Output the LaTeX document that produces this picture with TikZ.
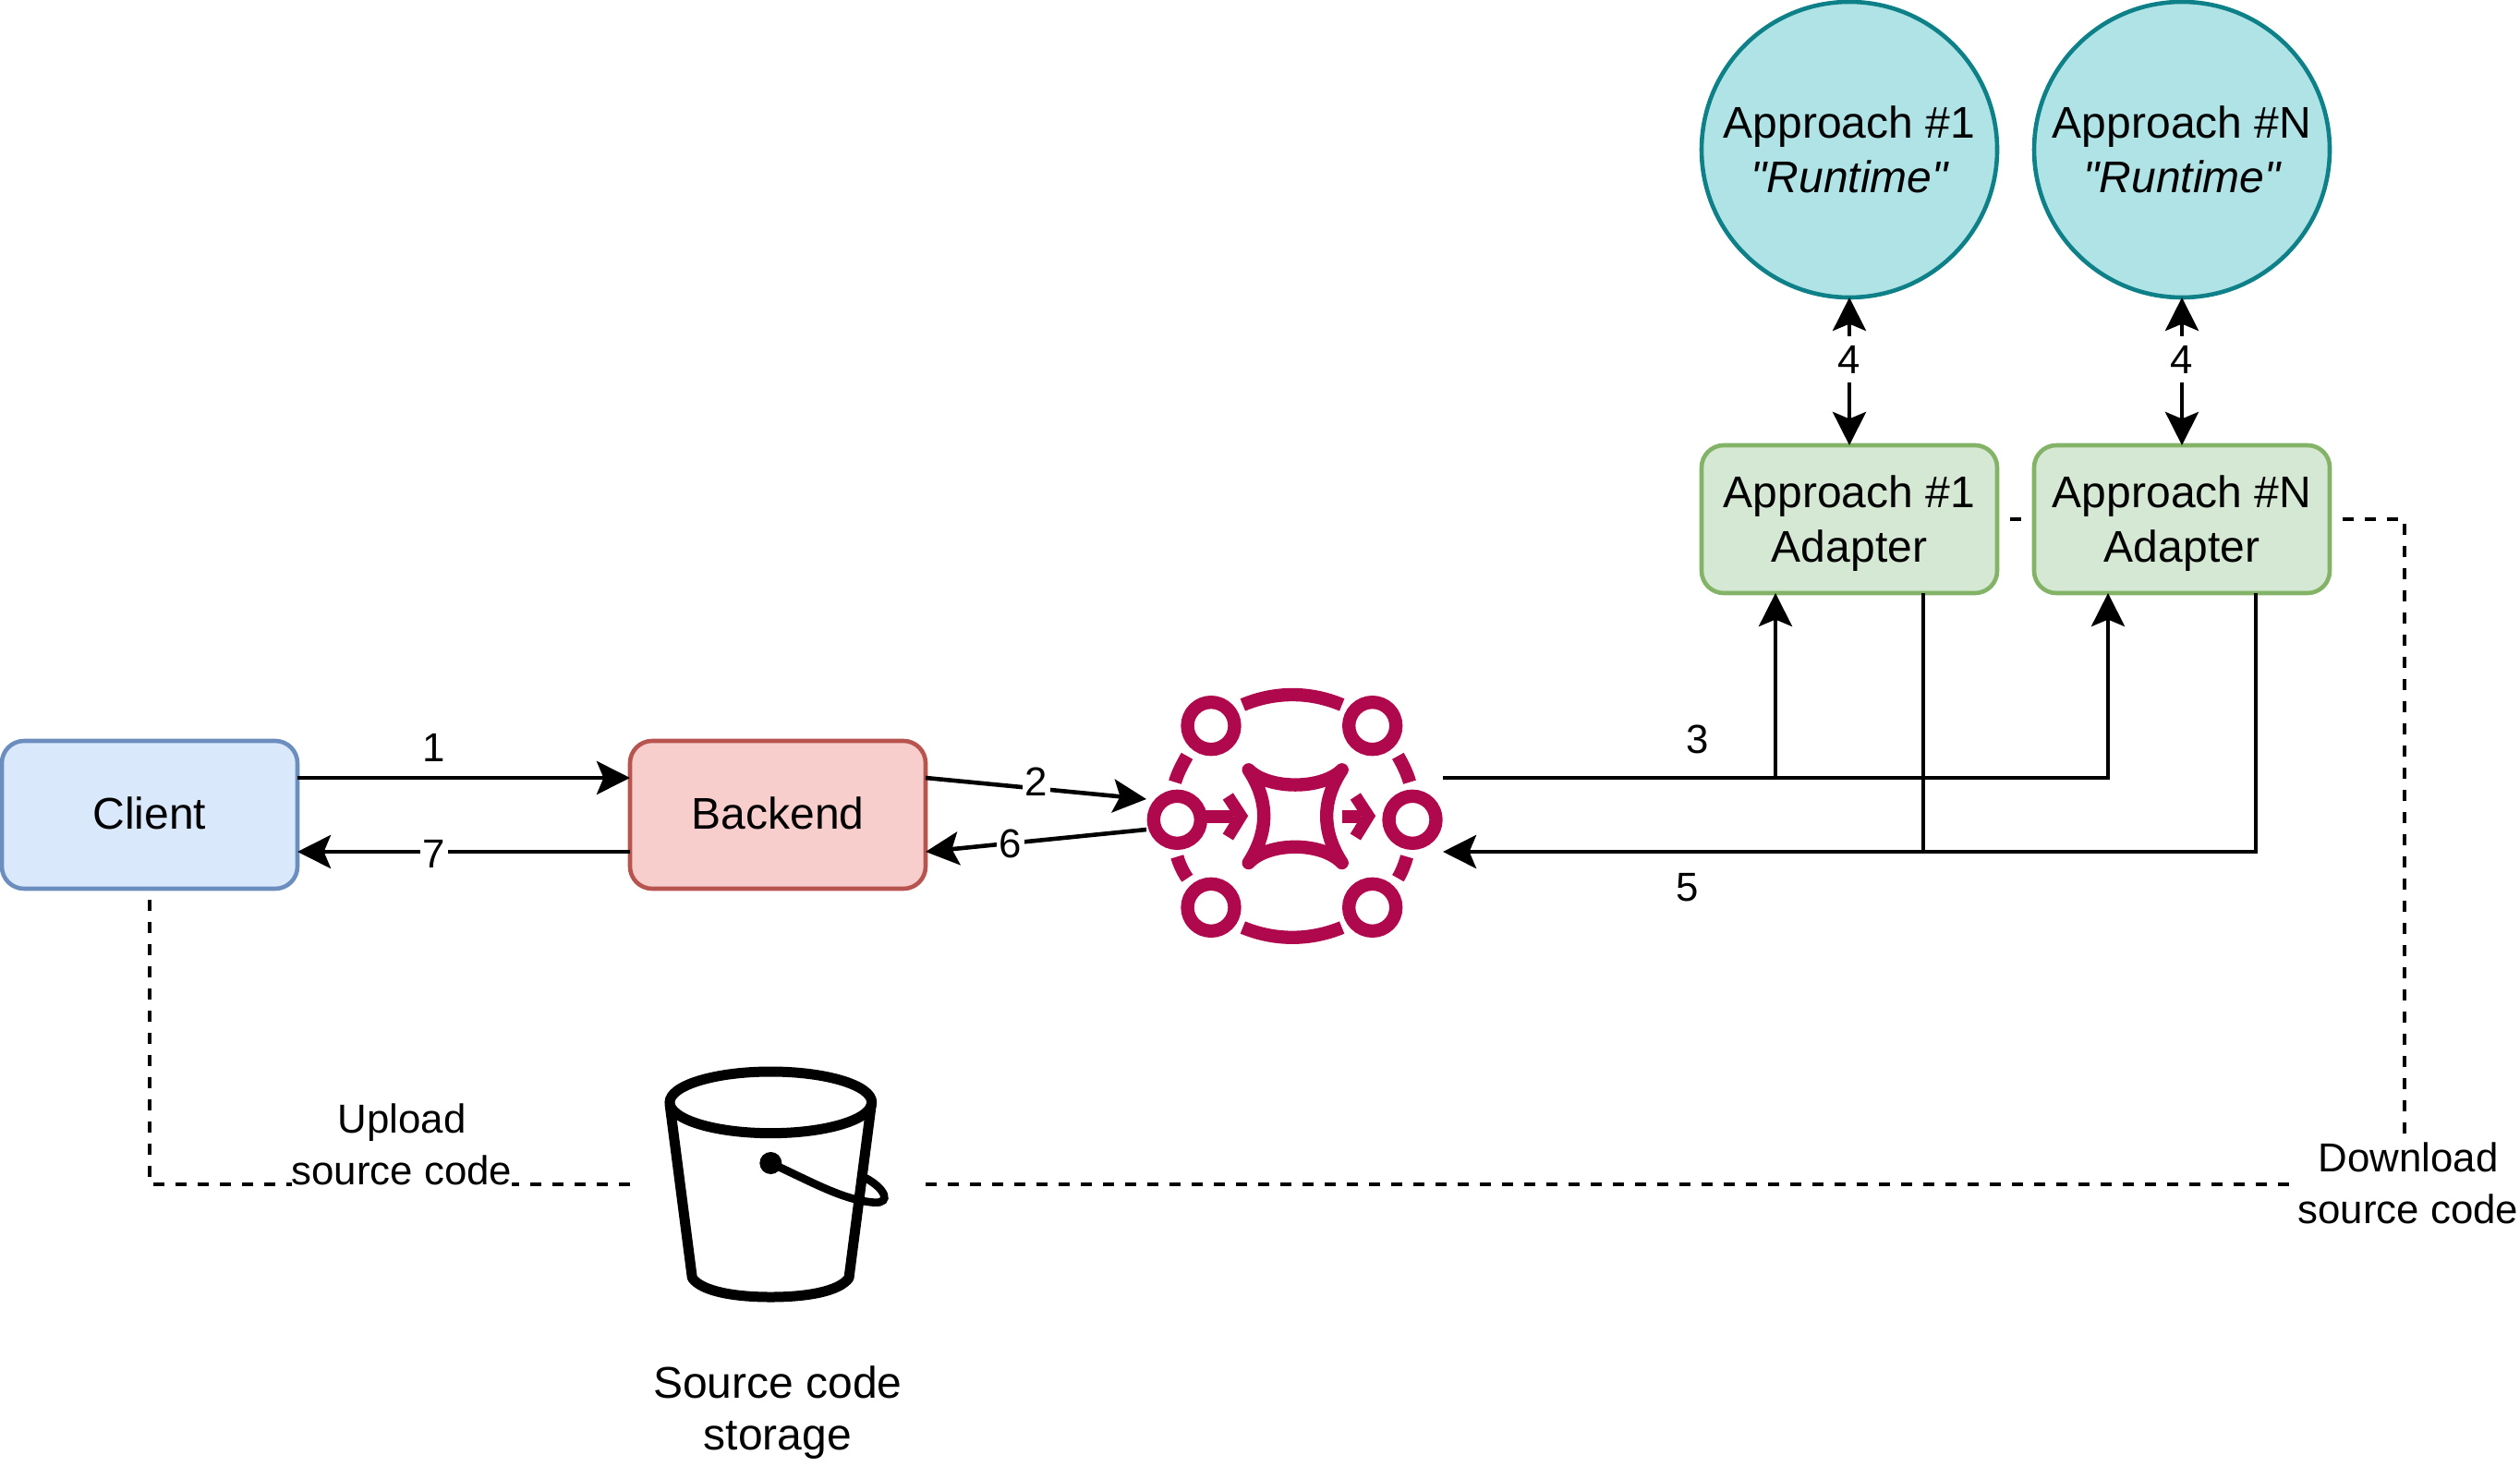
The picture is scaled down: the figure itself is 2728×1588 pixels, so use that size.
\documentclass[tikz,border=0pt]{standalone}
\usepackage{fontspec}
\setmainfont{Liberation Sans}
\newfontfamily\rawsans{Liberation Sans}
\usetikzlibrary{arrows.meta,calc}
\definecolor{blueF}{HTML}{DAE8FC}\definecolor{blueS}{HTML}{6C8EBF}
\definecolor{redF}{HTML}{F8CECC}\definecolor{redS}{HTML}{B85450}
\definecolor{greenF}{HTML}{D5E8D4}\definecolor{greenS}{HTML}{82B366}
\definecolor{tealF}{HTML}{B0E3E6}\definecolor{tealS}{HTML}{0E8088}
\definecolor{iconC}{HTML}{B0084D}
\newcommand{\dropline}{\rule{0pt}{22.4pt}}
\tikzset{
  bigtext/.style={font=\fontsize{24pt}{29.5pt}\selectfont,align=center,text=black},
  storetext/.style={font=\fontsize{24pt}{27.8pt}\selectfont,align=center,text=black},
  smalltext/.style={font=\fontsize{21.9pt}{27.8pt}\selectfont,align=center,text=black},
  boxbase/.style={bigtext,rectangle,rounded corners=12pt,minimum width=160pt,minimum height=80pt,inner sep=0pt,outer sep=0pt,line width=2.3pt,draw},
  clientbox/.style={boxbase,fill=blueF,draw=blueS,text depth=1.7pt},
  backendbox/.style={boxbase,fill=redF,draw=redS,text depth=1.7pt},
  adapterbox/.style={boxbase,fill=greenF,draw=greenS},
  runtimecircle/.style={bigtext,circle,minimum size=160pt,inner sep=0pt,outer sep=0pt,line width=2.3pt,draw=tealS,fill=tealF},
  tipshape/.style={},
  link/.style={line width=2.3pt,draw=black,-{Stealth[length=18pt,width=18pt,inset=3.7pt]}},
  plainlink/.style={line width=2.3pt,draw=black},
  bothlink/.style={line width=2.3pt,draw=black,{Stealth[length=18pt,width=18pt,inset=3.7pt]}-{Stealth[length=18pt,width=18pt,inset=3.7pt]}},
  dashlink/.style={line width=2.2pt,draw=black,dash pattern=on 6pt off 6pt},
  lbl/.style={smalltext,inner sep=0pt},
  lblw/.style={smalltext,inner sep=1.5pt,fill=white},
  iconbox/.style={rectangle,minimum width=160pt,minimum height=160pt,inner sep=0pt,outer sep=0pt},
  hubstroke/.style={line width=7.17pt,draw=iconC},
  pailstroke/.style={line width=5.5pt,draw=black},
}
\begin{document}
\begin{tikzpicture}[x=.5pt,y=-.5pt]
\useasboundingbox (0,0) rectangle (2728,1588);
% nodes
\node[iconbox] (hub) at (1400,887) {};
\node[iconbox] (pail) at (842,1282) {};
\node[storetext,inner sep=0pt] (pailtxt) at (842,1529) {Source code\\storage};
% dashed connectors (drawn under the boxes and labels)
\node[clientbox,draw=none,fill=none] (clientghost) at (162,882) {};
\coordinate (ulcorner) at (162,1282);
\coordinate (dlcorner) at (2603,1282);
\coordinate (drcorner) at (2603,562);
\node[adapterbox,draw=none,fill=none] (a1ghost) at (2002,562) {};
\draw[dashlink,dash phase=6pt] (clientghost.south) -- (ulcorner) -- (pail.west);
\draw[dashlink] (pail.east) -- (dlcorner) -- (drcorner) -- (a1ghost.east);
\node[clientbox] (client) at (162,882) {Client};
\node[backendbox] (backend) at (842,882) {Backend};
\node[adapterbox] (a1) at (2002,562) {\dropline Approach \#1\\Adapter};
\node[adapterbox] (an) at (2362,562) {\dropline Approach \#N\\Adapter};
\node[runtimecircle] (r1) at (2002,162) {Approach \#1\\{\rawsans\itshape "Runtime"}};
\node[runtimecircle] (rn) at (2362,162) {Approach \#N\\{\rawsans\itshape "Runtime"}};
\node[lblw,inner xsep=0pt,inner ysep=5pt] (ul) at (435,1239) {Upload\\source code};
\node[lblw,inner sep=0pt] (dl) at (2607,1281) {Download\\source code};
% connectors
\coordinate (hubin) at (1241,865);
\coordinate (hubinb) at (1241,898);
\coordinate (hubout) at (1562,842);
\coordinate (hubret) at (1562,922);
\draw[link] ($(client.east)+(0,-40)$) -- ($(backend.west)+(0,-40)$);
\draw[link] ($(backend.west)+(0,40)$) -- ($(client.east)+(0,40)$);
\draw[link] ($(backend.east)+(0,-40)$) -- (hubin);
\draw[link] (hubinb) -- ($(backend.east)+(0,40)$);
\coordinate (b1) at (1922,842);
\coordinate (bn) at (2282,842);
\coordinate (c1) at (2082,922);
\coordinate (cn) at (2442,922);
\draw[link] (b1) -- ($(a1.south)+(-80,0)$);
\draw[link] (hubout) -- (bn) -- ($(an.south)+(-80,0)$);
\draw[plainlink] ($(a1.south)+(80,0)$) -- (c1);
\draw[link] ($(an.south)+(80,0)$) -- (cn) -- (hubret);
\draw[bothlink] (r1.south) -- (a1.north);
\draw[bothlink] (rn.south) -- (an.north);
% labels
\node[lbl] (n1) at (470,809) {1};
\node[lblw] (n7) at (470,924) {7};
\node[lblw] (n2) at (1122,846) {2};
\node[lblw] (n6) at (1094,913) {6};
\node[lbl] (n3) at (1838,800) {3};
\node[lbl] (n5) at (1827,961) {5};
\node[lblw,inner ysep=5pt] (n4a) at (2002,389) {4};
\node[lblw,inner ysep=5pt] (n4b) at (2362,389) {4};
% hub icon
\begin{scope}[shift={(1220,720)},x=.16667pt,y=-.16667pt]
  \foreach \cx/\cy/\nm in {163/502/l,927/502/r,273/197/tl,797/197/tr,273/787/bl,797/787/br}{
    \draw[hubstroke] (\cx,\cy) circle[radius=76.5];
  }
  \draw[hubstroke] (376,129) .. controls (480,85) and (594,85) .. (698,129);
  \draw[hubstroke] (376,852) .. controls (480,895) and (594,895) .. (698,852);
  \draw[hubstroke] (195,295) .. controls (178,325) and (164,352) .. (156,380);
  \draw[hubstroke] (880,295) .. controls (897,325) and (910,352) .. (918,380);
  \draw[hubstroke] (163,622) .. controls (170,647) and (182,672) .. (196,692);
  \draw[hubstroke] (909,622) .. controls (902,647) and (892,672) .. (880,692);
  \draw[hubstroke,line join=round,line cap=round] (395,340)
     .. controls (460,405) and (633,405) .. (698,340)
     .. controls (632,440) and (632,540) .. (698,642)
     .. controls (633,573) and (460,573) .. (395,642)
     .. controls (461,540) and (461,440) .. (395,340) -- cycle;
  \draw[hubstroke] (255,492) -- (345,492);
  \draw[hubstroke,line width=6.6pt,line join=miter] (328,426) -- (370,490) -- (328,558);
  \draw[hubstroke] (698,492) -- (760,492);
  \draw[hubstroke,line width=6.6pt,line join=miter] (742,426) -- (784,490) -- (742,558);
\end{scope}
% bucket icon
\begin{scope}[shift={(680,1130)},x=.16667pt,y=-.16667pt]
  \draw[pailstroke] (463,190) ellipse[x radius=328,y radius=100];
  \draw[pailstroke,line join=round] (135,195) -- (208,760) .. controls (240,805) and (350,822) .. (463,822) .. controls (576,822) and (685,805) .. (717,760) -- (790,195);
  \fill[black] (463,387) circle[radius=36];
  \draw[line width=4.3pt,draw=black,line cap=round] (463,387) .. controls (600,450) and (700,508) .. (800,515) .. controls (855,518) and (835,470) .. (772,436);
\end{scope}
\end{tikzpicture}
\end{document}
